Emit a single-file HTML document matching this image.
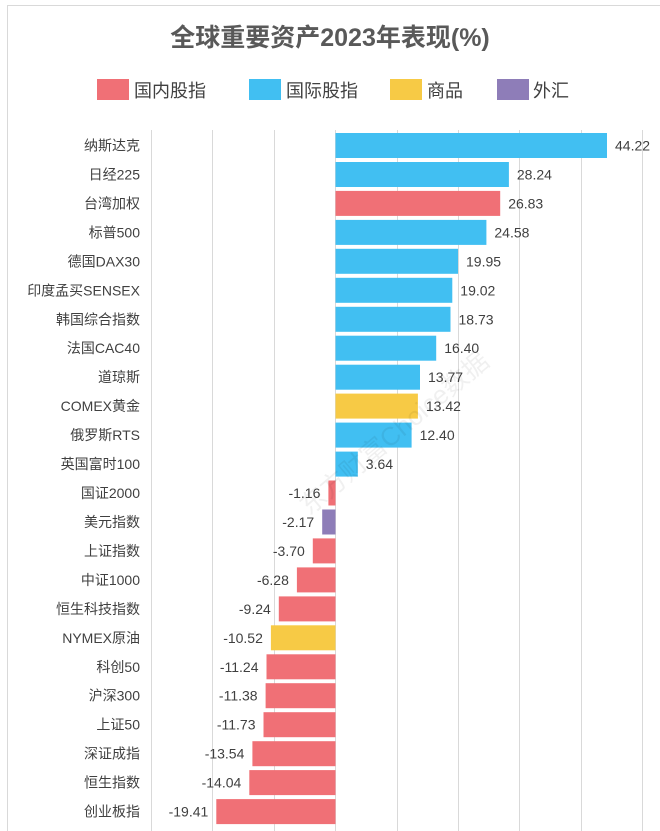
<!DOCTYPE html>
<html><head><meta charset="utf-8"><style>
html,body{margin:0;padding:0;background:#fff;}
svg{display:block;font-family:"Liberation Sans","Noto Sans CJK SC",sans-serif;}
</style></head><body>
<svg width="660" height="831" viewBox="0 0 660 831" xmlns="http://www.w3.org/2000/svg">
<rect x="0" y="0" width="660" height="831" fill="#fff"/>
<rect x="7.5" y="5.5" width="660" height="840" fill="none" stroke="#d9d9d9"/>
<text x="330" y="46" text-anchor="middle" font-size="25" font-weight="bold" fill="#595959">全球重要资产2023年表现(%)</text>
<g font-size="18" fill="#404040">
<rect x="97" y="79" width="32" height="21" fill="#f07076"/><text x="134" y="97">国内股指</text>
<rect x="249" y="79" width="32" height="21" fill="#41bff2"/><text x="286" y="97">国际股指</text>
<rect x="390" y="79" width="32" height="21" fill="#f7ca45"/><text x="427" y="97">商品</text>
<rect x="497" y="79" width="32" height="21" fill="#8e7db8"/><text x="533" y="97">外汇</text>
</g>
<g stroke="#d9d9d9" stroke-width="1">
<line x1="151.5" y1="130" x2="151.5" y2="831"/><line x1="212.5" y1="130" x2="212.5" y2="831"/><line x1="274.5" y1="130" x2="274.5" y2="831"/><line x1="335.5" y1="130" x2="335.5" y2="831"/><line x1="397.5" y1="130" x2="397.5" y2="831"/><line x1="458.5" y1="130" x2="458.5" y2="831"/><line x1="519.5" y1="130" x2="519.5" y2="831"/><line x1="581.5" y1="130" x2="581.5" y2="831"/><line x1="642.5" y1="130" x2="642.5" y2="831"/>
</g>
<g id="bars"></g>
<text x="400" y="440" font-size="26" fill="#000" fill-opacity="0.06" transform="rotate(-40 400 440)" text-anchor="middle">东方财富Choice数据</text>
</svg>
<script>
var d=[["纳斯达克",44.22,"b"],["日经225",28.24,"b"],["台湾加权",26.83,"r"],["标普500",24.58,"b"],["德国DAX30",19.95,"b"],["印度孟买SENSEX",19.02,"b"],["韩国综合指数",18.73,"b"],["法国CAC40",16.40,"b"],["道琼斯",13.77,"b"],["COMEX黄金",13.42,"y"],["俄罗斯RTS",12.40,"b"],["英国富时100",3.64,"b"],["国证2000",-1.16,"r"],["美元指数",-2.17,"p"],["上证指数",-3.70,"r"],["中证1000",-6.28,"r"],["恒生科技指数",-9.24,"r"],["NYMEX原油",-10.52,"y"],["科创50",-11.24,"r"],["沪深300",-11.38,"r"],["上证50",-11.73,"r"],["深证成指",-13.54,"r"],["恒生指数",-14.04,"r"],["创业板指",-19.41,"r"]];
var C={r:"#f07076",b:"#41bff2",y:"#f7ca45",p:"#8e7db8"};
var s="",z=335.5,k=6.14;
d.forEach(function(e,i){var cy=145.5+28.96*i,v=e[1],w=Math.abs(v)*k,x=v>=0?z:z-w;
s+='<rect x="'+x.toFixed(1)+'" y="'+(cy-12.5).toFixed(1)+'" width="'+w.toFixed(1)+'" height="25" fill="'+C[e[2]]+'"/>';
s+='<text x="140" y="'+(cy+5).toFixed(1)+'" text-anchor="end" font-size="14" fill="#404040">'+e[0]+'</text>';
var lx=v>=0?z+w+8:x-8;
s+='<text x="'+lx.toFixed(1)+'" y="'+(cy+5).toFixed(1)+'" text-anchor="'+(v>=0?"start":"end")+'" font-size="14" fill="#404040">'+v.toFixed(2)+'</text>';});
document.getElementById("bars").innerHTML=s;
</script>
</body></html>
